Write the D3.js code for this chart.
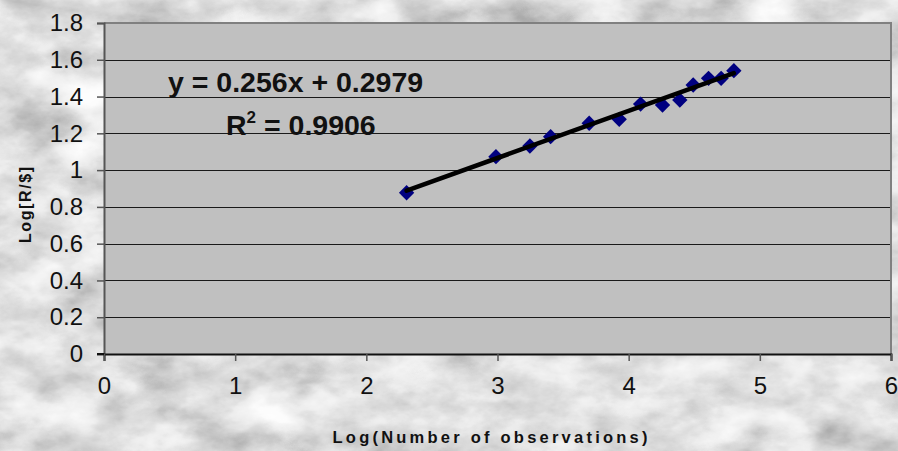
<!DOCTYPE html>
<html>
<head>
<meta charset="utf-8">
<script src="https://cdn.jsdelivr.net/npm/d3@7"></script>
<style>
  html, body { margin: 0; padding: 0; background: #e4e4e4; }
  svg { display: block; }
  text { font-family: "Liberation Sans", Arial, sans-serif; }
</style>
</head>
<body>
<svg id="chart" width="898" height="451"></svg>
<script>
// Observations: log of sample size vs log of R/$
const logObservations = [2.307, 2.988, 3.247, 3.405, 3.699, 3.928, 4.091, 4.258, 4.390, 4.492, 4.609, 4.705, 4.802];
const logRatio        = [0.877, 1.073, 1.131, 1.182, 1.255, 1.276, 1.359, 1.354, 1.381, 1.463, 1.499, 1.499, 1.541];

// Linear fit shown on the chart
const fitCoefficients = [0.256, 0.2979]; // slope, intercept
const fitLabel = "y = 0.256x + 0.2979";
const r2Value = "0.9906";

const xTicks = [0, 1, 2, 3, 4, 5, 6];
const yTicks = [0, 0.2, 0.4, 0.6, 0.8, 1.0, 1.2, 1.4, 1.6, 1.8];

const W = 898, H = 451;
const plot = { left: 104, right: 891, top: 23, bottom: 354 };

const svg = d3.select("#chart");

// Marbled backdrop
const defs = svg.append("defs");
const marble = defs.append("filter").attr("id", "marble")
  .attr("x", 0).attr("y", 0).attr("width", "100%").attr("height", "100%")
  .attr("color-interpolation-filters", "sRGB");
marble.append("feTurbulence").attr("type", "fractalNoise")
  .attr("baseFrequency", "0.016 0.028").attr("numOctaves", 5).attr("seed", 7).attr("result", "noise");
marble.append("feColorMatrix").attr("type", "matrix")
  .attr("values", "0.33 0.33 0.33 0 0  0.33 0.33 0.33 0 0  0.33 0.33 0.33 0 0  0 0 0 0 1")
  .attr("result", "gray");
const ct = marble.append("feComponentTransfer");
["feFuncR", "feFuncG", "feFuncB"].forEach(f =>
  ct.append(f).attr("type", "table").attr("tableValues", "1 1 0.99 0.93 0.82 0.68 0.6 0.55"));
svg.append("rect").attr("width", W).attr("height", H).attr("fill", "#e0e0e0").attr("filter", "url(#marble)");

const x = d3.scaleLinear().domain([0, 6]).range([plot.left, plot.right]);
const y = d3.scaleLinear().domain([0, 1.8]).range([plot.bottom, plot.top]);

// Plot area
svg.append("rect")
  .attr("x", plot.left).attr("y", plot.top)
  .attr("width", plot.right - plot.left).attr("height", plot.bottom - plot.top)
  .attr("fill", "#c0c0c0");

// Horizontal gridlines
svg.append("g").selectAll("line").data(yTicks.filter(v => v > 0 && v < 1.8)).join("line")
  .attr("x1", plot.left).attr("x2", plot.right)
  .attr("y1", d => Math.round(y(d)) + 0.5).attr("y2", d => Math.round(y(d)) + 0.5)
  .attr("stroke", "#1a1a1a").attr("stroke-width", 1.2);

// Plot frame (top and right)
svg.append("path")
  .attr("d", `M${plot.left},${plot.top} H${plot.right} V${plot.bottom}`)
  .attr("fill", "none").attr("stroke", "#808080").attr("stroke-width", 2);

// Axes
const yAxis = d3.axisLeft(y).tickValues(yTicks).tickSize(7).tickPadding(14)
  .tickFormat(d => d3.format("~g")(d));
const gy = svg.append("g").attr("transform", `translate(${plot.left},0)`).call(yAxis);
gy.select(".domain").attr("stroke", "#555").attr("stroke-width", 2);
gy.selectAll(".tick line").attr("stroke", "#555").attr("stroke-width", 1.5);
gy.selectAll(".tick text").attr("font-size", 24).attr("fill", "#111")
  .attr("font-family", "'Liberation Sans', Arial, sans-serif");

const xAxis = d3.axisBottom(x).tickValues(xTicks).tickSize(7).tickPadding(16)
  .tickFormat(d3.format("d"));
const gx = svg.append("g").attr("transform", `translate(0,${plot.bottom})`).call(xAxis);
gx.select(".domain").attr("stroke", "#111").attr("stroke-width", 2);
gx.selectAll(".tick line").attr("stroke", "#555").attr("stroke-width", 1.5);
gx.selectAll(".tick text").attr("font-size", 24).attr("fill", "#111")
  .attr("font-family", "'Liberation Sans', Arial, sans-serif");
// y-axis tick at zero extends left past the x axis
svg.append("line").attr("x1", plot.left - 7).attr("x2", plot.left)
  .attr("y1", plot.bottom).attr("y2", plot.bottom).attr("stroke", "#111").attr("stroke-width", 2);

// Data markers
const pts = logObservations.map((v, i) => [v, logRatio[i]]);
svg.append("g").selectAll("path").data(pts).join("path")
  .attr("d", d3.symbol().type(d3.symbolDiamond2).size(150))
  .attr("transform", d => `translate(${x(d[0])},${y(d[1])})`)
  .attr("fill", "#000080");

// Trendline
const [m, b] = fitCoefficients;
const xMin = d3.min(logObservations), xMax = d3.max(logObservations);
svg.append("line")
  .attr("x1", x(xMin)).attr("y1", y(m * xMin + b))
  .attr("x2", x(xMax)).attr("y2", y(m * xMax + b))
  .attr("stroke", "#000").attr("stroke-width", 4.5).attr("stroke-linecap", "round");

// Fit equation
svg.append("text").attr("x", 168).attr("y", 92)
  .attr("font-size", 28.5).attr("font-weight", "bold").attr("fill", "#111")
  .text(fitLabel);
const r2 = svg.append("text").attr("x", 226).attr("y", 135)
  .attr("font-size", 28.5).attr("font-weight", "bold").attr("fill", "#111");
r2.append("tspan").text("R");
r2.append("tspan").attr("font-size", 17).attr("dy", -12).text("2");
r2.append("tspan").attr("dy", 12).text(" = " + r2Value);

// Axis titles
svg.append("text").attr("x", 490).attr("y", 443)
  .attr("text-anchor", "middle").attr("font-size", 16.5).attr("font-weight", "bold")
  .attr("textLength", 315).attr("lengthAdjust", "spacing").attr("fill", "#111")
  .text("Log(Number of observations)");
svg.append("text")
  .attr("transform", "translate(31,205) rotate(-90)")
  .attr("text-anchor", "middle").attr("font-size", 16).attr("font-weight", "bold")
  .attr("textLength", 76).attr("lengthAdjust", "spacing").attr("fill", "#111")
  .text("Log[R/$]");
</script>
</body>
</html>
